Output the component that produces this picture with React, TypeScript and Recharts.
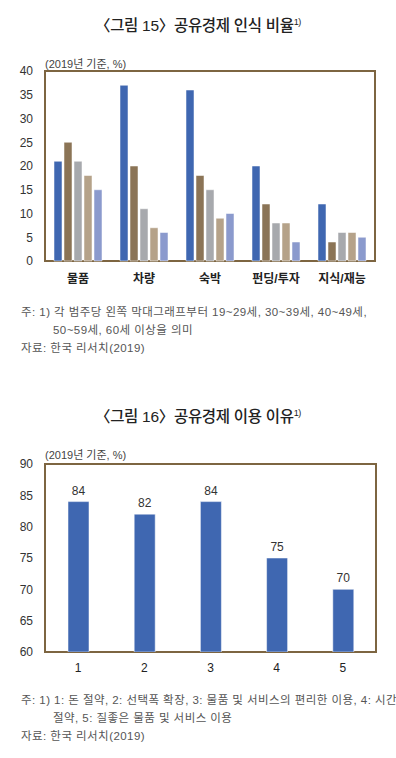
import { BarChart, Bar, XAxis, YAxis, ReferenceArea, LabelList } from 'recharts';

const categories = ['물품', '차량', '숙박', '펀딩/투자', '지식/재능'];
const age1929 = [21, 37, 36, 20, 12];
const age3039 = [25, 20, 18, 12, 4];
const age4049 = [21, 11, 15, 8, 6];
const age5059 = [18, 7, 9, 8, 6];
const age60 = [15, 6, 10, 4, 5];
const ticks1 = [0, 5, 10, 15, 20, 25, 30, 35, 40];

const reasons = ['1', '2', '3', '4', '5'];
const reasonValues = [84, 82, 84, 75, 70];
const ticks2 = [60, 65, 70, 75, 80, 85, 90];

const data1 = categories.map((name, i) => ({
  name,
  a: age1929[i],
  b: age3039[i],
  c: age4049[i],
  d: age5059[i],
  e: age60[i],
}));
const data2 = reasons.map((name, i) => ({ name, v: reasonValues[i] }));

const FONT = '"Liberation Sans", "Noto Sans CJK KR", sans-serif';
const FRAME = '#7d6541';
const TEXT = '#333';

const seriesColors = [
  { key: 'a', color: '#3f67b1' },
  { key: 'b', color: '#8b7456' },
  { key: 'c', color: '#a7a9ad' },
  { key: 'd', color: '#b5a289' },
  { key: 'e', color: '#8b9acd' },
];

const abs = (top: number, left: number, extra: any = {}) => ({
  position: 'absolute' as const,
  top,
  left,
  fontFamily: FONT,
  color: TEXT,
  whiteSpace: 'nowrap' as const,
  ...extra,
});

const titleStyle = { width: 396, textAlign: 'center', fontSize: 15.5, fontWeight: 500, color: '#222', letterSpacing: -0.3 };
const noteStyle = { fontSize: 11.5, color: '#555', lineHeight: '18px', letterSpacing: 0.45 };

export default function App() {
  return (
    <div style={{ position: 'absolute', top: 0, left: 0, width: 396, height: 758, background: '#fff' }}>
      <div style={abs(13, 0, titleStyle)}>
        〈그림 15〉공유경제 인식 비율<sup style={{ fontSize: 9 }}>1)</sup>
      </div>
      <div style={abs(55, 45, { fontSize: 11, color: '#444' })}>(2019년 기준, %)</div>

      <div style={{ position: 'absolute', top: 61, left: 0 }}>
        <BarChart
          width={396}
          height={230}
          data={data1}
          margin={{ top: 10, right: 21, left: 0, bottom: 0 }}
          barGap={2}
          barCategoryGap={9}
        >
          <XAxis
            dataKey="name"
            height={30}
            tickLine={false}
            axisLine={false}
            tickSize={0}
            tickMargin={13}
            tick={{ fontSize: 12, fill: '#222', fontWeight: 700, fontFamily: FONT }}
            interval={0}
          />
          <YAxis
            domain={[0, 40]}
            ticks={ticks1}
            width={45}
            tickLine={false}
            axisLine={false}
            tickSize={0}
            tickMargin={12}
            interval={0}
            tick={{ fontSize: 12, fill: TEXT, fontFamily: FONT }}
          />
          {seriesColors.map((s) => (
            <Bar key={s.key} dataKey={s.key} fill={s.color} stroke="#fff" strokeOpacity={0.5} strokeWidth={1} isAnimationActive={false} />
          ))}
          <ReferenceArea y1={0} y2={40} fill="none" stroke={FRAME} strokeWidth={2} />
        </BarChart>
      </div>

      <div style={abs(303, 21, noteStyle)}>
        주: 1) 각 범주당 왼쪽 막대그래프부터 19~29세, 30~39세, 40~49세,
        <br />
        <span style={{ paddingLeft: 32 }}>50~59세, 60세 이상을 의미</span>
        <br />
        자료: 한국 리서치(2019)
      </div>

      <div style={abs(404, 0, titleStyle)}>
        〈그림 16〉공유경제 이용 이유<sup style={{ fontSize: 9 }}>1)</sup>
      </div>
      <div style={abs(446, 45, { fontSize: 11, color: '#444' })}>(2019년 기준, %)</div>

      <div style={{ position: 'absolute', top: 454, left: 0 }}>
        <BarChart
          width={396}
          height={228}
          data={data2}
          margin={{ top: 10, right: 20, left: 0, bottom: 0 }}
          barSize={21}
        >
          <XAxis
            dataKey="name"
            height={30}
            tickLine={false}
            axisLine={false}
            tickSize={0}
            tickMargin={11}
            tick={{ fontSize: 12, fill: '#222', fontFamily: FONT }}
            interval={0}
          />
          <YAxis
            domain={[60, 90]}
            ticks={ticks2}
            width={45}
            tickLine={false}
            axisLine={false}
            tickSize={0}
            tickMargin={12}
            interval={0}
            allowDataOverflow
            tick={{ fontSize: 12, fill: TEXT, fontFamily: FONT }}
          />
          <Bar dataKey="v" fill="#3f67b1" stroke="#fff" strokeOpacity={0.5} strokeWidth={1} isAnimationActive={false}>
            <LabelList dataKey="v" position="top" offset={7} style={{ fontSize: 12, fill: TEXT, fontFamily: FONT }} />
          </Bar>
          <ReferenceArea y1={60} y2={90} fill="none" stroke={FRAME} strokeWidth={2} />
        </BarChart>
      </div>

      <div style={abs(691, 21, noteStyle)}>
        주: 1) 1: 돈 절약, 2: 선택폭 확장, 3: 물품 및 서비스의 편리한 이용, 4: 시간
        <br />
        <span style={{ paddingLeft: 32 }}>절약, 5: 질좋은 물품 및 서비스 이용</span>
        <br />
        자료: 한국 리서치(2019)
      </div>
    </div>
  );
}
